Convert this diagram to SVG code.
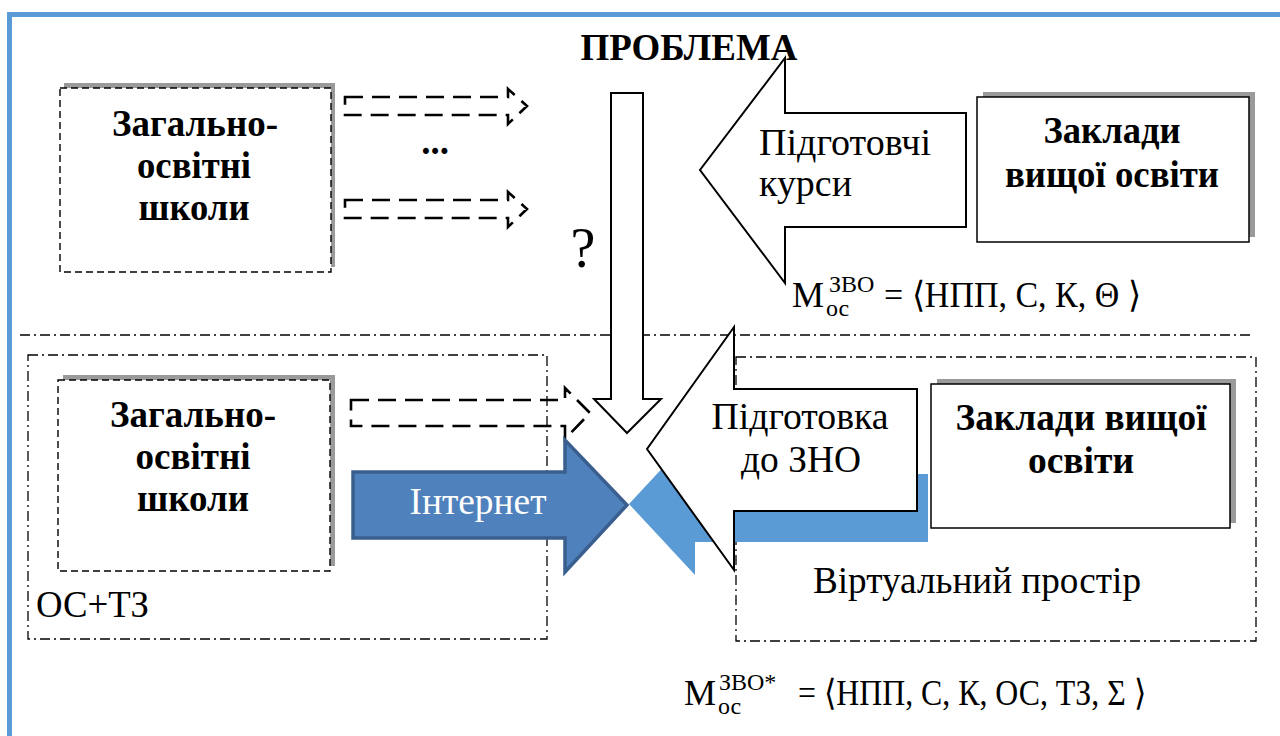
<svg xmlns="http://www.w3.org/2000/svg" width="1280" height="736" viewBox="0 0 1280 736">
<defs>
<style>
text{font-family:"Liberation Serif","Times New Roman",serif;fill:#000}
.b{font-weight:bold;font-size:37px}
.r{font-size:38px}
.m{font-size:36px}
.s{font-size:24px}
.dbox{fill:#fff;stroke:#000;stroke-width:1.4;stroke-dasharray:7 4}
.shadow{fill:#9a9a9a}
.sbox{fill:#fff;stroke:#000;stroke-width:1.5}
.dd{fill:none;stroke:#000;stroke-width:1.3;stroke-dasharray:10 4 2 4}
.darr{fill:none;stroke:#000;stroke-width:2.6;stroke-dasharray:18 9}
.warr{fill:#fff;stroke:#000;stroke-width:2;stroke-linejoin:miter}
</style>
</defs>
<rect x="0" y="0" width="1280" height="736" fill="#fff"/>
<g id="frame">
<rect x="7" y="12" width="1273" height="5" fill="#5b9bd5"/>
<rect x="7" y="12" width="5" height="724" fill="#5b9bd5"/>
</g>
<g id="regions">
<line class="dd" x1="20" y1="335" x2="1251" y2="335"/>
<rect id="os-tz" class="dd" x="28" y="355" width="519" height="284"/>
<rect id="virtual" class="dd" x="736" y="357" width="520" height="284"/>
</g>
<g id="title"><text class="b" x="689" y="60" text-anchor="middle" textLength="217" lengthAdjust="spacingAndGlyphs">ПРОБЛЕМА</text></g>
<g id="school-top">
<rect class="shadow" x="64" y="83" width="271" height="184"/>
<rect class="dbox" x="60" y="88" width="271" height="184"/>
<text class="b" x="195" y="136" text-anchor="middle" textLength="166" lengthAdjust="spacingAndGlyphs">Загально-</text>
<text class="b" x="194" y="178" text-anchor="middle" textLength="114" lengthAdjust="spacingAndGlyphs">освітні</text>
<text class="b" x="194" y="220" text-anchor="middle" textLength="111" lengthAdjust="spacingAndGlyphs">школи</text>
</g>
<g id="zvo-top">
<rect class="shadow" x="983" y="92" width="272" height="145"/>
<rect class="sbox" x="977" y="97" width="272" height="145"/>
<text class="b" x="1112" y="143" text-anchor="middle" textLength="137" lengthAdjust="spacingAndGlyphs">Заклади</text>
<text class="b" x="1112" y="187" text-anchor="middle" textLength="214" lengthAdjust="spacingAndGlyphs">вищої освіти</text>
</g>
<g id="school-bottom">
<rect class="shadow" x="63" y="375" width="272" height="191"/>
<rect class="dbox" x="58" y="380" width="272" height="191"/>
<text class="b" x="193" y="427" text-anchor="middle" textLength="166" lengthAdjust="spacingAndGlyphs">Загально-</text>
<text class="b" x="193" y="469" text-anchor="middle" textLength="115" lengthAdjust="spacingAndGlyphs">освітні</text>
<text class="b" x="193" y="511" text-anchor="middle" textLength="112" lengthAdjust="spacingAndGlyphs">школи</text>
</g>
<g id="labels">
<text class="r" x="36" y="617" textLength="113" lengthAdjust="spacingAndGlyphs">ОС+ТЗ</text>
<text class="r" x="977" y="593" text-anchor="middle" textLength="328" lengthAdjust="spacingAndGlyphs">Віртуальний простір</text>
<text class="b" x="435" y="154" text-anchor="middle">...</text>
<text x="583" y="267" font-size="56" text-anchor="middle">?</text>
</g>
<g id="connectors">
<polygon class="darr" points="345,97 508,97 508,89 527,106 508,124 508,115 345,115"/>
<polygon class="darr" points="345,200 508,200 508,192 527,209 508,227 508,218 345,218"/>
<polygon class="darr" points="351,400 565,400 565,388 590,413 565,439 565,426 351,426"/>
<polygon fill="#5b9bd5" points="629,504 695,433 695,474 928,474 928,542 695,542 695,575"/>
<polygon fill="#4f81bd" stroke="#3a5f8f" stroke-width="3.5" points="353,472 565,472 565,440 627,505 565,572 565,538 353,538"/>
<text class="r" x="478" y="514" text-anchor="middle" textLength="137" lengthAdjust="spacingAndGlyphs" style="fill:#fff">Інтернет</text>
<polygon class="warr" points="611,93 643,93 643,399 661,399 627,433 594,399 611,399"/>
<polygon class="warr" points="966,113 785,113 785,58 700,170 785,283 785,227 966,227"/>
<text class="r" x="759" y="155" textLength="172" lengthAdjust="spacingAndGlyphs">Підготовчі</text>
<text class="r" x="759" y="196" textLength="93" lengthAdjust="spacingAndGlyphs">курси</text>
<polygon class="warr" points="917,389 734,389 734,327 647,449 734,570 734,511 917,511"/>
<text class="r" x="800" y="429" text-anchor="middle" textLength="177" lengthAdjust="spacingAndGlyphs">Підготовка</text>
<text class="r" x="801" y="472" text-anchor="middle" textLength="120" lengthAdjust="spacingAndGlyphs">до ЗНО</text>
</g>
<g id="zvo-bottom">
<rect class="shadow" x="937" y="379" width="299" height="144"/>
<rect class="sbox" x="931" y="384" width="299" height="144"/>
<text class="b" x="1081" y="430" text-anchor="middle" textLength="251" lengthAdjust="spacingAndGlyphs">Заклади вищої</text>
<text class="b" x="1081" y="473" text-anchor="middle" textLength="106" lengthAdjust="spacingAndGlyphs">освіти</text>
</g>
<g id="formula-top">
<text class="m" x="792" y="307">М</text>
<text class="s" x="829" y="292">ЗВО</text>
<text class="s" x="826" y="316">ос</text>
<text class="m" x="884" y="307" textLength="257" lengthAdjust="spacingAndGlyphs">= ⟨НПП, С, К, Θ ⟩</text>
</g>
<g id="formula-bottom">
<text class="m" x="684" y="705">М</text>
<text class="s" x="719" y="690">ЗВО*</text>
<text class="s" x="718" y="714">ос</text>
<text class="m" x="798" y="705" textLength="348" lengthAdjust="spacingAndGlyphs">= ⟨НПП, С, К, ОС, ТЗ, Σ ⟩</text>
</g>
</svg>
